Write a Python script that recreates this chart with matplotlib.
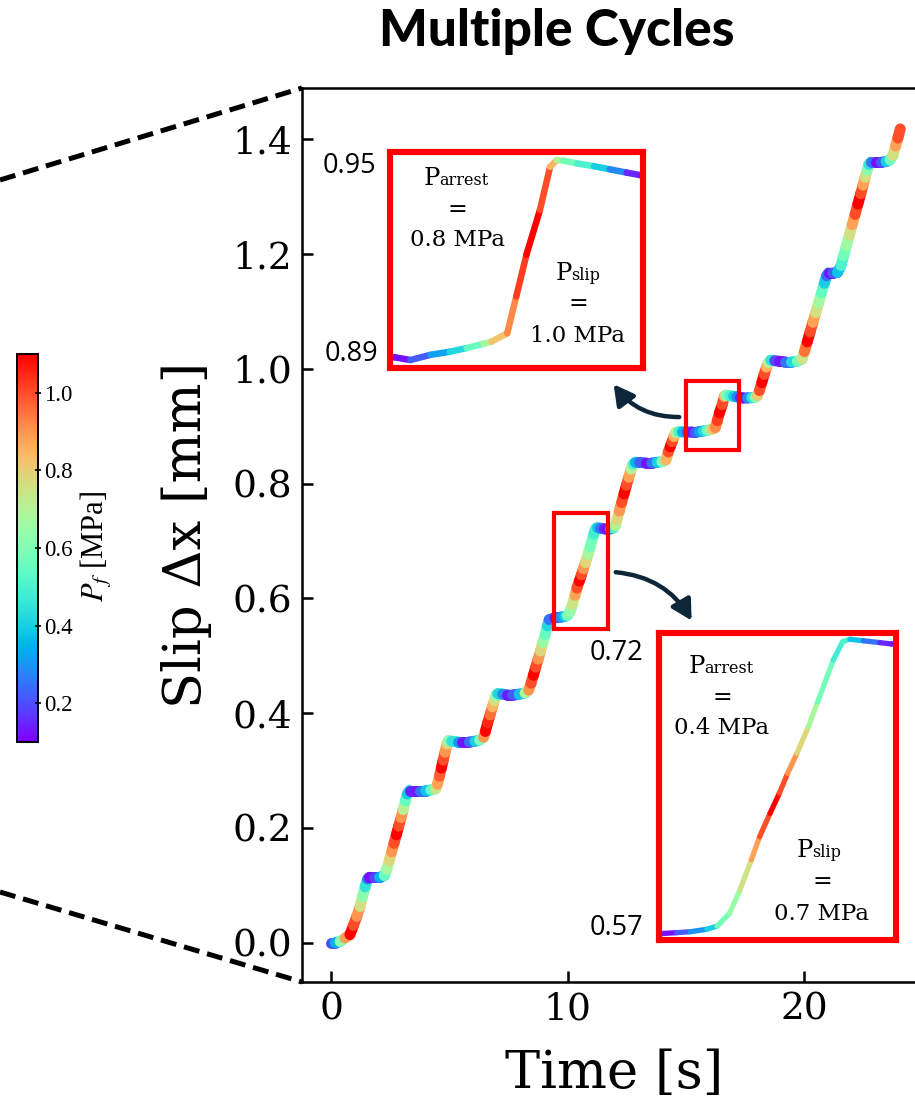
import numpy as np
import matplotlib
matplotlib.use("Agg")
import matplotlib.pyplot as plt
from matplotlib.collections import LineCollection
from matplotlib.colors import Normalize
from matplotlib.patches import Rectangle, FancyArrowPatch
from matplotlib.lines import Line2D
from matplotlib.cm import ScalarMappable

# ---------------------------------------------------------------- data
time_s = [
    0.00, 0.17, 0.38, 0.59, 0.80, 0.95, 1.09, 1.23, 1.33, 1.44, 1.55, 1.62,
    1.80, 2.05, 2.25, 2.36, 2.46, 2.56, 2.66, 2.76, 2.86, 2.96, 3.05, 3.14, 3.22, 3.32,
    3.60, 3.78, 4.00, 4.22, 4.42, 4.50, 4.58, 4.66, 4.74, 4.82, 4.90, 4.96,
    5.10, 5.35, 5.55, 5.85, 6.08, 6.28, 6.45, 6.52, 6.62, 6.72, 6.82, 6.90, 6.97, 7.05,
    7.25, 7.45, 7.68, 7.95, 8.20, 8.35, 8.45, 8.55, 8.65, 8.75, 8.85, 8.95, 9.05, 9.14, 9.22,
    9.46, 9.59, 9.72, 9.88, 9.98, 10.10, 10.20, 10.31, 10.39, 10.49, 10.58, 10.66, 10.75,
    10.86, 10.95, 11.10, 11.19, 11.26, 11.39, 11.55, 11.66,
    11.80, 11.92, 12.02, 12.08, 12.18, 12.28, 12.38, 12.48, 12.58, 12.68, 12.76, 12.86,
    13.05, 13.30, 13.55, 13.78, 13.98, 14.15, 14.25, 14.33, 14.41, 14.49, 14.57, 14.70,
    14.85, 15.05,
    15.24, 15.38, 15.56, 15.73, 15.88, 16.03, 16.10, 16.24, 16.32, 16.41, 16.53, 16.62,
    16.68, 16.74, 16.86, 17.01, 17.15, 17.30, 17.42,
    17.60, 17.78, 17.92, 18.02, 18.10, 18.20, 18.30, 18.40, 18.48, 18.58,
    18.75, 18.95, 19.20, 19.45, 19.70, 19.90, 20.00, 20.12, 20.24, 20.36, 20.48, 20.60,
    20.72, 20.84, 20.94, 21.02,
    21.20, 21.40, 21.55, 21.66, 21.78, 21.90, 22.02, 22.14, 22.26, 22.38, 22.48, 22.57,
    22.65, 22.72, 22.80,
    23.02, 23.25, 23.45, 23.62, 23.74, 23.85, 23.95, 24.05,
]

slip_mm = [
    0.000, 0.000, 0.002, 0.008, 0.014, 0.030, 0.046, 0.063, 0.080, 0.097, 0.111, 0.114,
    0.114, 0.114, 0.117, 0.128, 0.143, 0.158, 0.173, 0.188, 0.203, 0.218, 0.232, 0.247, 0.259, 0.265,
    0.265, 0.265, 0.265, 0.266, 0.268, 0.276, 0.290, 0.304, 0.318, 0.332, 0.346, 0.352,
    0.351, 0.350, 0.350, 0.350, 0.351, 0.353, 0.358, 0.368, 0.383, 0.397, 0.411, 0.422, 0.431, 0.434,
    0.433, 0.432, 0.432, 0.433, 0.435, 0.440, 0.452, 0.466, 0.480, 0.494, 0.508, 0.523, 0.537, 0.552, 0.563,
    0.5663, 0.5667, 0.5672, 0.5685, 0.5702, 0.5770, 0.5894, 0.6054, 0.6178, 0.6302, 0.6409, 0.6515, 0.6622,
    0.6763, 0.6896, 0.7118, 0.7216, 0.7229, 0.7221, 0.7211, 0.7204,
    0.7210, 0.7225, 0.7270, 0.737, 0.752, 0.767, 0.782, 0.797, 0.811, 0.825, 0.834, 0.837,
    0.837, 0.836, 0.836, 0.837, 0.838, 0.841, 0.855, 0.864, 0.873, 0.882, 0.889, 0.8905,
    0.8900, 0.8898,
    0.8897, 0.8888, 0.8905, 0.8915, 0.8927, 0.8941, 0.8948, 0.8975, 0.9095, 0.9231, 0.9377, 0.9518,
    0.9540, 0.9538, 0.9529, 0.9520, 0.9510, 0.9499, 0.9491,
    0.9492, 0.9496, 0.9505, 0.953, 0.962, 0.976, 0.990, 1.003, 1.011, 1.015,
    1.014, 1.013, 1.012, 1.012, 1.013, 1.017, 1.030, 1.047, 1.064, 1.081, 1.098, 1.115,
    1.132, 1.149, 1.162, 1.167,
    1.167, 1.168, 1.180, 1.197, 1.215, 1.233, 1.251, 1.269, 1.287, 1.305, 1.320, 1.334,
    1.346, 1.356, 1.360,
    1.360, 1.360, 1.361, 1.364, 1.372, 1.388, 1.402, 1.418,
]

pf_mpa = [
    0.20, 0.35, 0.62, 0.88, 1.10, 1.00, 0.90, 0.76, 0.62, 0.45, 0.25, 0.12,
    0.18, 0.35, 0.55, 0.68, 0.78, 0.90, 1.00, 1.10, 1.00, 0.90, 0.70, 0.55, 0.40, 0.15,
    0.13, 0.25, 0.38, 0.55, 0.75, 0.88, 0.98, 1.10, 1.00, 0.90, 0.78, 0.62,
    0.45, 0.30, 0.13, 0.25, 0.40, 0.60, 0.90, 1.10, 1.05, 0.95, 0.85, 0.75, 0.60, 0.42,
    0.28, 0.13, 0.22, 0.38, 0.68, 0.90, 1.00, 1.10, 1.00, 0.90, 0.78, 0.65, 0.55, 0.42, 0.25,
    0.12, 0.22, 0.30, 0.40, 0.58, 0.65, 0.75, 0.88, 1.00, 1.10, 1.00, 0.90, 0.78,
    0.68, 0.58, 0.48, 0.50, 0.38, 0.25, 0.15, 0.12,
    0.30, 0.50, 0.70, 0.78, 0.90, 1.00, 1.10, 1.00, 0.88, 0.70, 0.50, 0.35,
    0.22, 0.12, 0.25, 0.40, 0.60, 0.85, 1.00, 1.10, 1.00, 0.85, 0.68, 0.50,
    0.35, 0.20,
    0.12, 0.22, 0.32, 0.42, 0.55, 0.68, 0.82, 0.92, 1.02, 1.10, 1.00, 0.85,
    0.68, 0.58, 0.50, 0.40, 0.28, 0.15, 0.12,
    0.28, 0.45, 0.60, 0.80, 1.00, 1.10, 1.00, 0.85, 0.70, 0.45,
    0.20, 0.12, 0.25, 0.42, 0.58, 0.75, 0.95, 1.10, 1.00, 0.88, 0.76, 0.66,
    0.55, 0.40, 0.25, 0.12,
    0.22, 0.38, 0.50, 0.58, 0.66, 0.76, 0.88, 1.00, 1.10, 1.00, 0.88, 0.76,
    0.62, 0.45, 0.25,
    0.12, 0.22, 0.40, 0.58, 0.76, 0.88, 1.00, 1.10,
]

x_ticks = [0, 10, 20]
y_ticks = [0.0, 0.2, 0.4, 0.6, 0.8, 1.0, 1.2, 1.4]
cbar_ticks = [0.2, 0.4, 0.6, 0.8, 1.0]

# windows highlighted on the main curve (t0, t1, s0, s1)
box_arrest_high = (15.0, 17.24, 0.859, 0.979)
box_arrest_low = (9.42, 11.70, 0.547, 0.748)

# axis ranges of the two close-ups
zoom_high_t, zoom_high_s = (15.2, 17.44), (0.8862, 0.9568)
zoom_low_t, zoom_low_s = (9.42, 11.70), (0.5628, 0.7265)

# --------------------------------------------------------------- figure
W, H = 915, 1098
fig = plt.figure(figsize=(W / 100, H / 100), dpi=100)


def rect_px(x0, y0, x1, y1):
    return [x0 / W, 1 - y1 / H, (x1 - x0) / W, (y1 - y0) / H]


def fx(x):
    return x / W


def fy(y):
    return 1 - y / H


cmap = plt.get_cmap("rainbow")
norm = Normalize(vmin=0.1, vmax=1.1)

pts = np.column_stack([time_s, slip_mm])
segs = np.stack([pts[:-1], pts[1:]], axis=1)
seg_colors = cmap(norm(np.asarray(pf_mpa)[:-1]))


def colored_path(ax, lw):
    lc = LineCollection(segs, colors=seg_colors, linewidths=lw,
                        capstyle="round", joinstyle="round")
    ax.add_collection(lc)
    return lc


serif = "DejaVu Serif"

# main axes (right part runs past the figure edge)
ax = fig.add_axes(rect_px(302, 88, 946.4, 982))
colored_path(ax, 7.9)
ax.set_xlim(-1.225, 26.0)
ax.set_ylim(-0.0685, 1.4893)
ax.set_xticks(x_ticks)
ax.set_yticks(y_ticks)
ax.set_xticklabels([str(v) for v in x_ticks])
ax.set_yticklabels([f"{v:.1f}" for v in y_ticks])
ax.tick_params(direction="in", length=8, width=1.8, pad=7, labelsize=27)
for lab in ax.get_xticklabels() + ax.get_yticklabels():
    lab.set_fontfamily(serif)
for sp in ax.spines.values():
    sp.set_linewidth(1.8)

for (t0, t1, s0, s1) in (box_arrest_high, box_arrest_low):
    ax.add_patch(Rectangle((t0, s0), t1 - t0, s1 - s0, fill=False,
                           edgecolor="#ff0000", linewidth=3.0, zorder=5))

fig.text(fx(557), fy(46), "Multiple Cycles", ha="center", va="baseline",
         fontsize=37, fontweight="black", family="Lato")
fig.text(fx(187), fy(535), "Slip Δx [mm]", rotation=90, ha="center",
         va="center", fontsize=38, family=serif)
fig.text(fx(614), fy(1088), "Time [s]", ha="center", va="baseline",
         fontsize=38, family=serif)

# dashed guide lines toward the left panel
for (ya, yb) in ((180, 88), (892, 982)):
    fig.add_artist(Line2D([0, fx(302)], [fy(ya), fy(yb)], transform=fig.transFigure,
                          color="black", linewidth=3.6, linestyle=(0, (3.2, 1.6))))

# colour bar
cax = fig.add_axes(rect_px(17, 354, 38, 742))
cb = fig.colorbar(ScalarMappable(norm=norm, cmap=cmap), cax=cax, ticks=cbar_ticks)
cb.outline.set_linewidth(1.4)
cax.tick_params(direction="inout", length=5, width=1.2, pad=2, labelsize=16.5)
cax.set_yticklabels([f"{v:.1f}" for v in cbar_ticks])
for lab in cax.get_yticklabels():
    lab.set_fontfamily("Liberation Serif")
fig.text(fx(97), fy(546), r"$P_f$ [MPa]", rotation=90, ha="center", va="center",
         fontsize=22, family="Liberation Serif", math_fontfamily="stix")


# close-ups
def close_up(box, tlim, slim, lw):
    iax = fig.add_axes(rect_px(*box))
    colored_path(iax, lw)
    iax.set_xlim(*tlim)
    iax.set_ylim(*slim)
    iax.set_xticks([])
    iax.set_yticks([])
    for sp in iax.spines.values():
        sp.set_color("#ff0000")
        sp.set_linewidth(4.4)
    return iax


close_up((390, 151.5, 642.5, 368), zoom_high_t, zoom_high_s, 4.7)
close_up((659, 632.5, 895.5, 940), zoom_low_t, zoom_low_s, 3.8)


def pressure_label(x_left, y_base, sub, x_c, y_eq, y_val, value):
    fig.text(fx(x_left), fy(y_base), "P", ha="left", va="baseline",
             fontsize=17.5, family=serif)
    fig.text(fx(x_left + 15), fy(y_base), sub, ha="left", va="baseline",
             fontsize=11.5, family=serif)
    fig.text(fx(x_c), fy(y_eq), "=", ha="center", va="center",
             fontsize=17, family=serif)
    fig.text(fx(x_c), fy(y_val), value, ha="center", va="center",
             fontsize=16.5, family=serif)


pressure_label(424, 185, "arrest", 457, 210, 240, "0.8 MPa")
pressure_label(556, 280, "slip", 578, 304, 336, "1.0 MPa")
pressure_label(689, 673, "arrest", 722, 698, 728, "0.4 MPa")
pressure_label(797, 857, "slip", 822, 882, 914, "0.7 MPa")

for (xr, yc, txt) in ((376, 166, "0.95"), (378, 354, "0.89"),
                      (643, 653, "0.72"), (643, 928, "0.57")):
    fig.text(fx(xr), fy(yc), txt, ha="right", va="center", fontsize=19.5,
             family="Open Sans")

# curved arrows from the highlighted windows to the close-ups
arrow_color = "#0d2638"
for (p0, p1) in (((682, 417), (612, 382)), ((613, 572), (693, 623))):
    arr = FancyArrowPatch((fx(p0[0]), fy(p0[1])), (fx(p1[0]), fy(p1[1])),
                          transform=fig.transFigure,
                          connectionstyle="arc3,rad=-0.27",
                          arrowstyle="-|>,head_length=0.55,head_width=0.3",
                          mutation_scale=22, linewidth=3.2, color=arrow_color)
    fig.add_artist(arr)

fig.savefig("out.png", dpi=100)
